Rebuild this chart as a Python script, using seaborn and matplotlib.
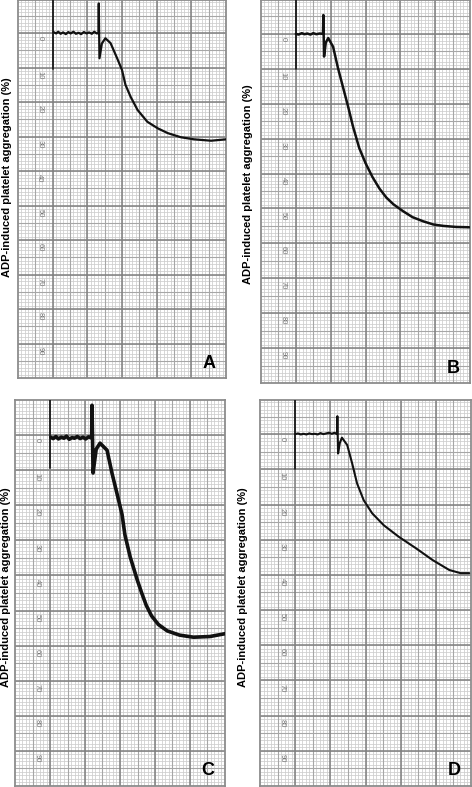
import numpy as np
import pandas as pd
import matplotlib
matplotlib.use("Agg")
import matplotlib.pyplot as plt
import seaborn as sns

# Aggregometer traces (x: chart divisions, y: % aggregation)
panelLetters = ["A", "B", "C", "D"]

traceAx = [10.2, 11, 11.6, 12.3, 13, 13.8, 14.5, 15.2, 16, 16.7, 17.5, 18.2, 19, 19.8,
           20.5, 21.3, 22, 22.7, 23.2,
           23.3, 23.5, 24.2, 25.2, 26.7, 28.6, 30, 31, 32.5, 34.5, 37.3,
           40.3, 43.2, 47, 50.8, 55.7, 60]
traceAy = [-0.3, 0.1, -0.4, 0.2, -0.2, 0.3, -0.3, 0.1, -0.4, 0.2, -0.1, 0.3, -0.3, 0.1,
           -0.2, 0.2, -0.4, 0.1, 0,
           -8.6, 7.3, 3.0, 1.5, 2.9, 7.3, 10.7, 15, 18.5, 22.3, 25.7,
           27.6, 29, 30.2, 30.8, 31.2, 30.8]

traceBx = [10, 10.8, 11.7, 12.5, 13.3, 14.2, 15, 15.9, 16.8, 17.8,
           17.9, 18.1, 18.6, 19.3, 20.7, 22.1, 23.6, 25, 26.4, 28.2,
           30, 32, 34, 36, 38, 40.8, 43.5, 46.6, 49.5, 52.3, 56, 59.8]
traceBy = [0, 0.2, -0.2, 0.1, -0.1, 0.2, -0.2, 0.1, -0.1, 0,
           -5.4, 6.5, 2.5, 1.2, 3.7, 9.8, 15.5, 20.8, 26.5, 32.7,
           37, 41, 44.3, 46.9, 48.8, 50.8, 52.5, 53.7, 54.6, 55, 55.3, 55.4]

traceCx = [10.2, 10.9, 11.7, 12.4, 13.2, 14, 14.7, 15.5, 16.3, 17, 17.8, 18.6, 19.4,
           20.2, 21, 21.9,
           22.0, 22.3, 23.2, 24.3, 26.3, 27.7, 29.1, 30.6, 31.4, 32.9,
           34.9, 36.2, 37.5, 39, 41, 43.5, 47, 51, 55.7, 60]
traceCy = [0.6, 1.0, 0.4, 1.1, 0.6, 0.9, 0.3, 1.2, 0.7, 0.9, 0.4, 1.0, 0.6,
           1.1, 0.5, 0.8,
           -8.5, 10.8, 4.0, 2.3, 4.3, 10.8, 16.5, 22.7, 28.4, 34.7,
           41.2, 45, 48.5, 51.5, 54, 55.8, 57, 57.6, 57.4, 56.6]

traceDx = [10, 10.8, 11.6, 12.4, 13.2, 14, 14.8, 15.6, 16.4, 17.2, 18, 18.8, 19.6,
           20.4, 21.2, 21.9,
           22.0, 22.2, 22.7, 23.3, 24.8, 26.2, 27.6, 29.5, 31.9, 35.2,
           39.5, 44.3, 49.1, 53.8, 57, 59.5]
traceDy = [0, -0.2, 0.1, -0.1, 0.1, -0.2, 0, -0.1, 0.1, -0.3, 0, -0.2, -0.4,
           -0.1, -0.4, 0,
           -5.1, 5.5, 2.5, 1.0, 3.1, 8.3, 14, 18.8, 22.5, 25.9,
           29.2, 32.4, 35.8, 38.6, 39.5, 39.5]

# pen marker at the start of each recording
markerX = [10.1, 10.0, 10.1, 10.0]
markerTop = [-9.6, -9.7, -10, -9.7]
markerBottom = [10.3, 10, 9.5, 10]

traceX = [traceAx, traceBx, traceCx, traceDx]
traceY = [traceAy, traceBy, traceCy, traceDy]
traceWidth = [1.6, 1.8, 2.6, 1.5]

yTickValues = [0, 10, 20, 30, 40, 50, 60, 70, 80, 90]
yTickLabels = ["0", "10", "20", "30", "40", "50", "60", "70", "80", "90"]
yLabel = "ADP-induced platelet aggregation (%)"

# axes boxes in pixels: left, top, right, bottom
W, H = 472, 787
boxes = [(18, 0, 226, 378), (261, 0, 470, 383), (15, 400, 225, 786), (260, 400, 471, 786)]
yTops = [-9.6, -9.7, -10, -9.7]
labelPos = [(7, 177), (248, 184), (6, 587), (243, 587)]

sns.set_style("white")
plt.rcParams['font.family'] = ['Liberation Sans', 'DejaVu Sans']

fig = plt.figure(figsize=(W / 100, H / 100), dpi=100)

for i in range(4):
    l, t, r, b = boxes[i]
    ax = fig.add_axes([l / W, 1 - b / H, (r - l) / W, (b - t) / H])
    ax.set_xlim(0, 60)
    ax.set_ylim(100, yTops[i])

    # chart paper grid: fine, medium and major lines
    for v in np.arange(1, 60, 1):
        ax.axvline(v, color="#cdcdcd", lw=0.55, zorder=0)
    for v in np.arange(-9, 100, 1):
        ax.axhline(v, color="#cdcdcd", lw=0.55, zorder=0)
    for v in np.arange(5, 60, 10):
        ax.axvline(v, color="#a6a6a6", lw=0.8, zorder=0)
    for v in np.arange(-5, 100, 10):
        ax.axhline(v, color="#a6a6a6", lw=0.8, zorder=0)
    for v in np.arange(10, 60, 10):
        ax.axvline(v, color="#7f7f7f", lw=1.1, zorder=0)
    for v in np.arange(0, 100, 10):
        ax.axhline(v, color="#7f7f7f", lw=1.1, zorder=0)

    for s in ax.spines.values():
        s.set_color("#8c8c8c")
        s.set_linewidth(1.3)
    ax.set_xticks([])
    ax.set_yticks([])

    for v, lab in zip(yTickValues, yTickLabels):
        ax.text(6.3, v + 0.9, lab, rotation=-90, ha="center", va="top",
                fontsize=5.5, color="#777777")

    ax.plot([markerX[i], markerX[i]], [markerTop[i], markerBottom[i]],
            color="#111111", lw=1.2, zorder=3)

    df = pd.DataFrame({"time": traceX[i], "aggregation": traceY[i]})
    sns.lineplot(data=df, x="time", y="aggregation", sort=False, estimator=None,
                 color="#111111", lw=traceWidth[i], ax=ax, zorder=4)
    ax.set_xlabel("")
    ax.set_ylabel("")

    ax.text(57, 97, panelLetters[i], ha="right", va="baseline", fontsize=13,
            fontweight="heavy", color="black", zorder=5)

    lx, ly = labelPos[i]
    fig.text(lx / W, 1 - ly / H, yLabel, rotation=90, ha="center", va="center",
             fontsize=8, fontweight="bold", color="black")

fig.savefig("out.png", dpi=100)
